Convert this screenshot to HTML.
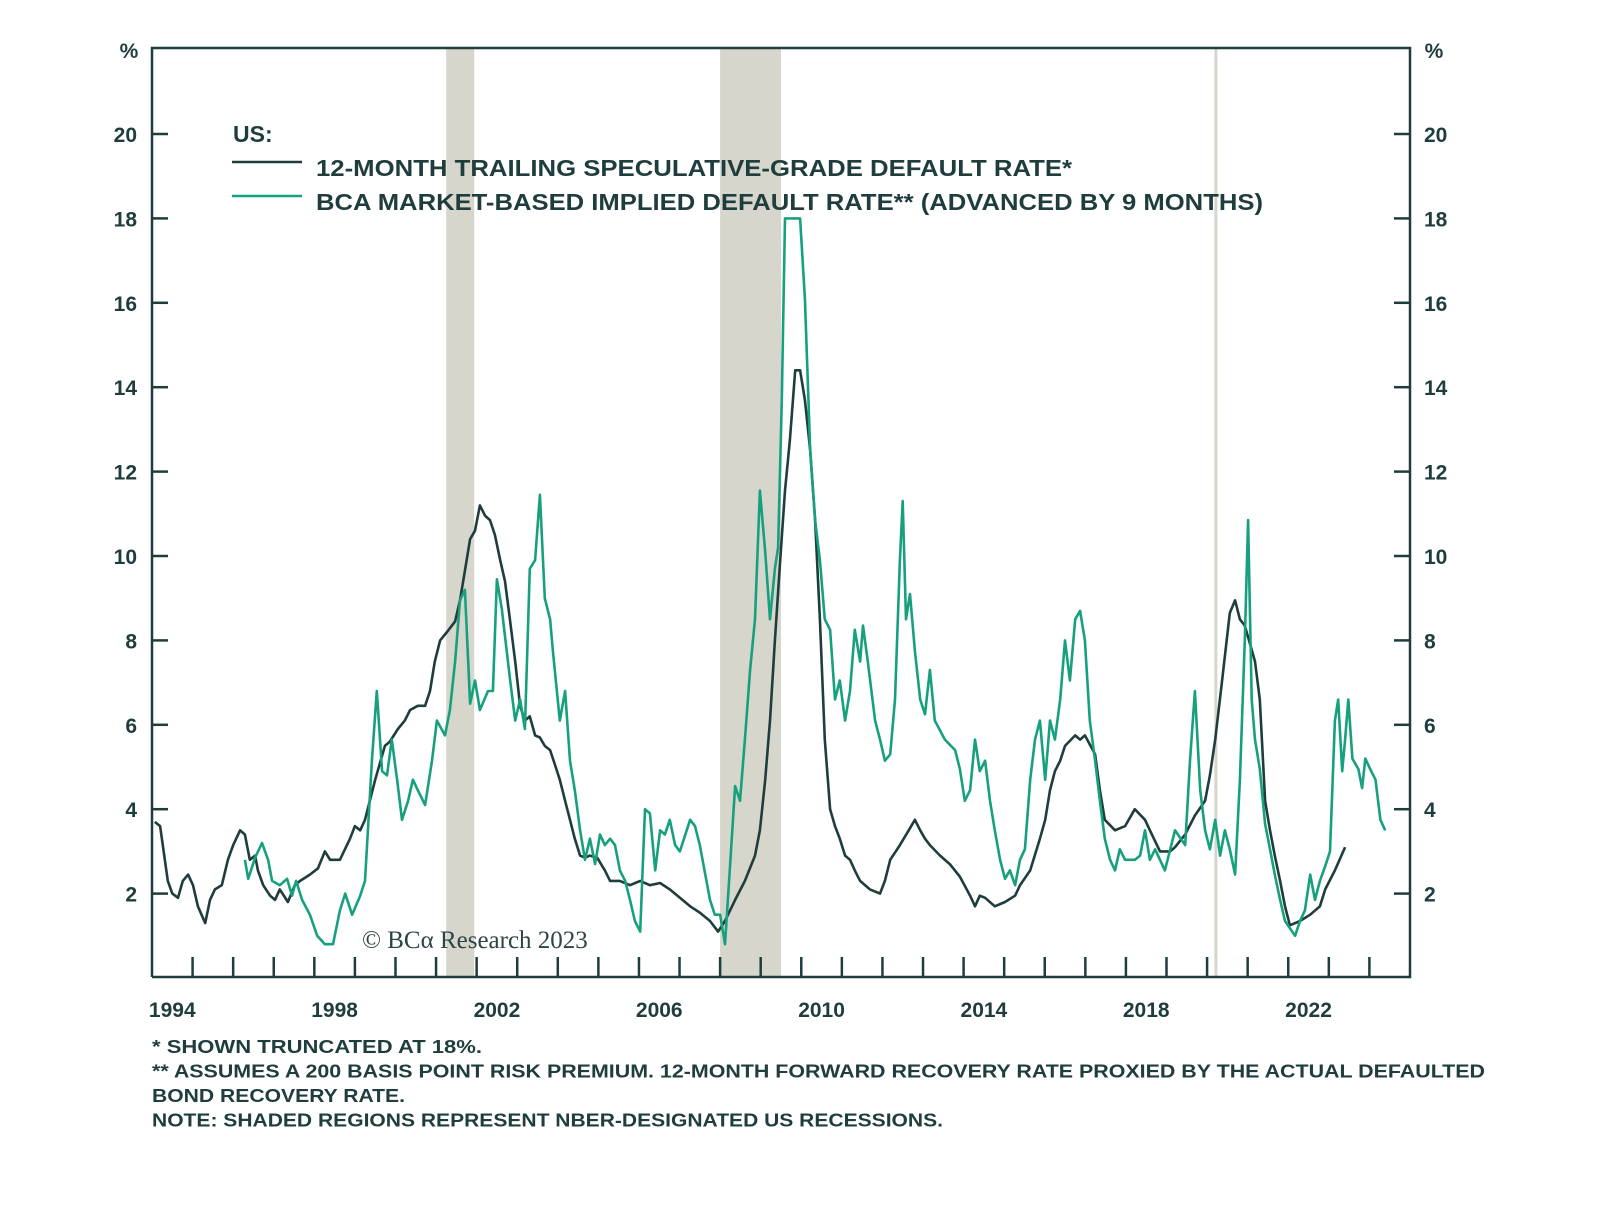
<!DOCTYPE html>
<html><head><meta charset="utf-8"><style>
body{margin:0;background:#fff;}
svg text{font-family:"Liberation Sans",sans-serif;font-weight:bold;fill:#1f3d3d;}
</style></head><body>
<svg id="chart" width="1600" height="1219" viewBox="0 0 1600 1219" xmlns="http://www.w3.org/2000/svg"></svg>
<script>
const yTicks=[2,4,6,8,10,12,14,16,18,20];
const xLabels=[1994,1998,2002,2006,2010,2014,2018,2022];
const recessions=[[2000.75,2001.44],[2007.5,2009.0],[2019.68,2019.75]];
const defYears=[1993.57,1993.70,1993.89,1994.0,1994.14,1994.26,1994.39,1994.51,1994.63,1994.81,1994.93,1995.05,1995.22,1995.37,1995.50,1995.67,1995.79,1995.91,1996.04,1996.11,1996.24,1996.41,1996.53,1996.65,1996.85,1997.02,1997.15,1997.39,1997.59,1997.76,1997.89,1998.13,1998.38,1998.50,1998.63,1998.75,1999.0,1999.24,1999.36,1999.56,1999.73,1999.86,2000.05,2000.23,2000.35,2000.47,2000.60,2000.77,2000.97,2001.09,2001.21,2001.34,2001.46,2001.58,2001.71,2001.83,2001.95,2002.08,2002.20,2002.32,2002.45,2002.57,2002.69,2002.81,2002.94,2003.06,2003.18,2003.31,2003.43,2003.55,2003.68,2003.80,2003.92,2004.05,2004.17,2004.29,2004.47,2004.66,2004.79,2005.03,2005.28,2005.53,2005.77,2006.02,2006.26,2006.51,2006.76,2007.0,2007.25,2007.45,2007.62,2007.87,2008.11,2008.36,2008.48,2008.61,2008.73,2008.85,2008.98,2009.10,2009.22,2009.35,2009.47,2009.59,2009.72,2009.84,2009.96,2010.08,2010.21,2010.33,2010.45,2010.58,2010.70,2010.82,2010.95,2011.19,2011.44,2011.56,2011.69,2011.93,2012.18,2012.30,2012.43,2012.55,2012.67,2012.92,2013.16,2013.41,2013.66,2013.78,2013.90,2014.03,2014.27,2014.52,2014.77,2014.89,2015.14,2015.38,2015.51,2015.63,2015.75,2015.88,2016.0,2016.25,2016.37,2016.49,2016.74,2016.86,2016.98,2017.23,2017.48,2017.72,2017.97,2018.09,2018.34,2018.59,2018.71,2018.96,2019.20,2019.45,2019.57,2019.70,2019.87,2020.06,2020.19,2020.31,2020.43,2020.68,2020.80,2020.93,2021.05,2021.17,2021.30,2021.42,2021.54,2021.79,2022.04,2022.28,2022.41,2022.65,2022.90];
const defValues=[3.7,3.6,2.3,2.0,1.9,2.3,2.45,2.2,1.7,1.3,1.85,2.1,2.2,2.8,3.15,3.5,3.4,2.8,2.9,2.55,2.2,1.95,1.85,2.1,1.8,2.2,2.3,2.45,2.6,3.0,2.8,2.8,3.3,3.6,3.5,3.75,4.7,5.5,5.6,5.9,6.1,6.35,6.45,6.45,6.8,7.5,8.0,8.2,8.45,8.95,9.65,10.4,10.6,11.2,10.95,10.85,10.5,9.9,9.4,8.5,7.5,6.45,6.1,6.2,5.75,5.7,5.5,5.4,5.05,4.7,4.2,3.75,3.3,2.9,2.85,2.9,2.85,2.55,2.3,2.3,2.2,2.3,2.2,2.25,2.1,1.9,1.7,1.55,1.35,1.1,1.35,1.85,2.3,2.9,3.5,4.7,6.1,8.0,9.9,11.55,12.75,14.4,14.4,13.7,12.5,10.85,8.5,5.65,4.0,3.6,3.3,2.9,2.8,2.55,2.3,2.1,2.0,2.3,2.8,3.15,3.55,3.75,3.5,3.3,3.15,2.9,2.7,2.4,1.95,1.7,1.95,1.9,1.7,1.8,1.95,2.2,2.55,3.3,3.75,4.45,4.9,5.15,5.5,5.75,5.65,5.75,5.3,4.45,3.75,3.5,3.6,4.0,3.75,3.5,3.0,3.0,3.1,3.4,3.85,4.2,4.8,5.65,7.05,8.65,8.95,8.5,8.35,7.5,6.6,4.2,3.5,2.9,2.3,1.7,1.25,1.35,1.5,1.7,2.1,2.55,3.1];
const bcaYears=[1995.79,1995.87,1996.04,1996.21,1996.36,1996.46,1996.65,1996.83,1996.95,1997.05,1997.20,1997.39,1997.57,1997.76,1997.96,1998.13,1998.26,1998.43,1998.63,1998.75,1998.92,1999.04,1999.17,1999.29,1999.41,1999.54,1999.66,1999.81,1999.93,2000.05,2000.23,2000.40,2000.52,2000.72,2000.84,2000.97,2001.09,2001.21,2001.34,2001.46,2001.58,2001.78,2001.90,2002.0,2002.12,2002.32,2002.45,2002.57,2002.69,2002.81,2002.94,2003.06,2003.18,2003.31,2003.38,2003.55,2003.68,2003.80,2003.92,2004.05,2004.17,2004.29,2004.42,2004.54,2004.66,2004.79,2004.91,2005.03,2005.16,2005.28,2005.40,2005.53,2005.65,2005.77,2005.90,2006.02,2006.14,2006.26,2006.39,2006.51,2006.76,2006.88,2007.0,2007.25,2007.37,2007.50,2007.62,2007.74,2007.87,2007.99,2008.11,2008.24,2008.36,2008.48,2008.61,2008.73,2008.85,2008.93,2009.02,2009.10,2009.47,2009.59,2009.72,2009.84,2009.96,2010.08,2010.21,2010.33,2010.45,2010.58,2010.70,2010.82,2010.95,2011.02,2011.14,2011.32,2011.44,2011.56,2011.69,2011.81,2011.93,2012.0,2012.08,2012.18,2012.30,2012.43,2012.55,2012.67,2012.79,2013.04,2013.29,2013.41,2013.53,2013.66,2013.78,2013.90,2014.03,2014.15,2014.27,2014.40,2014.52,2014.64,2014.77,2014.89,2015.01,2015.14,2015.26,2015.38,2015.51,2015.63,2015.75,2015.88,2016.0,2016.12,2016.25,2016.37,2016.49,2016.61,2016.74,2016.86,2016.98,2017.11,2017.23,2017.35,2017.48,2017.72,2017.85,2017.97,2018.09,2018.22,2018.46,2018.71,2018.96,2019.08,2019.20,2019.33,2019.45,2019.57,2019.70,2019.82,2019.94,2020.06,2020.19,2020.31,2020.43,2020.51,2020.60,2020.68,2020.80,2020.93,2021.05,2021.17,2021.30,2021.42,2021.67,2021.79,2021.91,2022.04,2022.16,2022.28,2022.41,2022.53,2022.65,2022.73,2022.83,2022.90,2022.98,2023.08,2023.23,2023.32,2023.40,2023.52,2023.65,2023.77,2023.89];
const bcaValues=[2.8,2.35,2.85,3.2,2.8,2.3,2.2,2.35,1.95,2.3,1.85,1.5,1.0,0.8,0.8,1.6,2.0,1.5,1.95,2.3,5.15,6.8,4.9,4.8,5.65,4.7,3.75,4.2,4.7,4.45,4.1,5.15,6.1,5.75,6.35,7.5,8.95,9.2,6.5,7.05,6.35,6.8,6.8,9.45,8.75,7.1,6.1,6.6,5.9,9.7,9.9,11.45,9.0,8.5,7.75,6.1,6.8,5.15,4.45,3.5,2.8,3.3,2.7,3.4,3.15,3.3,3.15,2.55,2.3,1.85,1.35,1.1,4.0,3.9,2.55,3.5,3.4,3.75,3.15,3.0,3.75,3.6,3.15,1.85,1.5,1.5,0.8,2.6,4.55,4.2,5.65,7.3,8.5,11.55,10.1,8.5,9.7,10.2,13.7,18,18,16.1,12.5,10.85,9.9,8.5,8.25,6.6,7.05,6.1,6.8,8.25,7.5,8.35,7.5,6.1,5.65,5.15,5.3,6.6,9.9,11.3,8.5,9.1,7.75,6.6,6.25,7.3,6.1,5.65,5.4,4.95,4.2,4.45,5.65,4.9,5.15,4.2,3.5,2.8,2.35,2.55,2.2,2.8,3.05,4.7,5.65,6.1,4.7,6.1,5.65,6.6,8.0,7.05,8.5,8.7,8.0,6.1,5.15,4.2,3.3,2.8,2.55,3.05,2.8,2.8,2.9,3.5,2.8,3.05,2.55,3.5,3.15,5.15,6.8,4.45,3.5,3.05,3.75,2.9,3.5,3.05,2.45,4.7,8.0,10.85,6.6,5.65,4.95,3.65,3.05,2.45,1.85,1.35,1.0,1.35,1.6,2.45,1.85,2.3,2.65,3.0,6.1,6.6,4.9,5.65,6.6,5.2,4.95,4.5,5.2,4.95,4.7,3.75,3.5];

const NS='http://www.w3.org/2000/svg';
const svg=document.getElementById('chart');
const L=152,R=1410,T=48,B=977;
const X=y=>L+(y-1993.5)*40.58;
const Y=v=>978-v*42.2;
function mk(tag,attrs,parent){const e=document.createElementNS(NS,tag);for(const k in attrs)e.setAttribute(k,attrs[k]);(parent||svg).appendChild(e);return e;}
function txt(s,attrs,parent){const e=mk('text',attrs,parent);e.textContent=s;return e;}

recessions.forEach(r=>{const e=mk('rect',{x:X(r[0]),y:T,width:Math.max(3,X(r[1])-X(r[0])),height:B-T,fill:'#d6d6cc'});

});

const frame=mk('path',{d:`M${L},${B}V${T}H${R}V${B}H${L}`,fill:'none',stroke:'#1f3d3d','stroke-width':2.5});



yTicks.forEach(v=>{
  mk('line',{x1:L,x2:L+16,y1:Y(v),y2:Y(v),stroke:'#1f3d3d','stroke-width':2.5});
  mk('line',{x1:R-16,x2:R,y1:Y(v),y2:Y(v),stroke:'#1f3d3d','stroke-width':2.5});
  const a=txt(v,{x:137,y:Y(v)+8,'text-anchor':'end','font-size':21});
  
  
  const b=txt(v,{x:1424,y:Y(v)+8,'text-anchor':'start','font-size':21});
  
  
});
const p1=txt('%',{x:129,y:58,'text-anchor':'middle','font-size':21});


const p2=txt('%',{x:1434,y:58,'text-anchor':'middle','font-size':21});



for(let yr=1994;yr<=2023;yr++){mk('line',{x1:X(yr+0.5),x2:X(yr+0.5),y1:B,y2:B-20,stroke:'#1f3d3d','stroke-width':2.5});}
xLabels.forEach(yr=>{const e=txt(yr,{x:X(yr),y:1017,'text-anchor':'middle','font-size':21});

});

function line(xs,vs,color,name){
  const d=xs.map((x,i)=>(i?'L':'M')+X(x).toFixed(1)+','+Y(vs[i]).toFixed(1)).join('');
  const e=mk('path',{d:d,fill:'none',stroke:color,'stroke-width':2.6,'stroke-linejoin':'round'});
  
  
}
line(defYears,defValues,'#1f3d3d','series-trailing-default-rate');
line(bcaYears,bcaValues,'#17a07e','series-bca-implied-default-rate');

const lg=mk('g',{});


txt('US:',{x:233,y:142,'font-size':23},lg);
mk('line',{x1:232,x2:302,y1:162,y2:162,stroke:'#1f3d3d','stroke-width':2.6},lg);
mk('line',{x1:232,x2:302,y1:196,y2:196,stroke:'#17a07e','stroke-width':2.6},lg);
const t1=txt('12-MONTH TRAILING SPECULATIVE-GRADE DEFAULT RATE*',{x:316,y:176,'font-size':23,textLength:756,lengthAdjust:'spacingAndGlyphs'},lg);


const t2=txt('BCA MARKET-BASED IMPLIED DEFAULT RATE** (ADVANCED BY 9 MONTHS)',{x:316,y:210,'font-size':23,textLength:947,lengthAdjust:'spacingAndGlyphs'},lg);



const c=txt('© BCα Research 2023',{x:362,y:948,'font-size':25,style:'font-family:"Liberation Serif",serif;font-weight:normal;fill:#2b4444'});



const notes=['*  SHOWN TRUNCATED AT 18%.',' ** ASSUMES A 200 BASIS POINT RISK PREMIUM. 12-MONTH FORWARD RECOVERY RATE PROXIED BY THE ACTUAL DEFAULTED','BOND RECOVERY RATE.','NOTE: SHADED REGIONS REPRESENT NBER-DESIGNATED US RECESSIONS.'];
const lens=[330,1333,253,791];
notes.forEach((n,i)=>{const e=txt(n,{x:152,y:1053+i*24.5,'font-size':18.5,textLength:lens[i],lengthAdjust:'spacingAndGlyphs'});

});
</script>
</body></html>
